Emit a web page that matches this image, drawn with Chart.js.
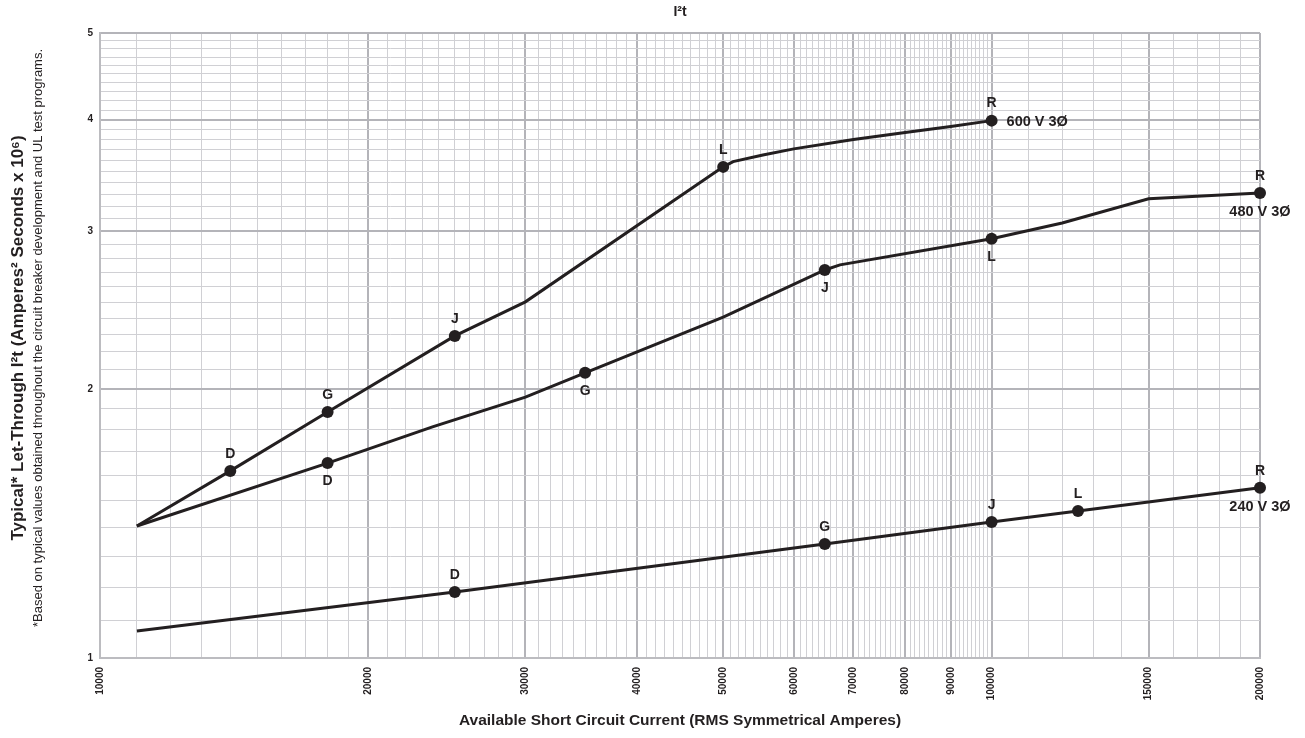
<!DOCTYPE html>
<html>
<head>
<meta charset="utf-8">
<title>I²t</title>
<script src="https://cdn.jsdelivr.net/npm/chart.js@4.4.1/dist/chart.umd.min.js"></script>
<style>
  html, body { margin: 0; padding: 0; background: #fff; }
  #wrap { width: 1305px; height: 738px; position: relative; }
</style>
</head>
<body>
<div id="wrap"><canvas id="myChart"></canvas></div>
<script>
// tick labels
const xTickLabels = [10000, 20000, 30000, 40000, 50000, 60000, 70000, 80000, 90000, 100000, 150000, 200000];
const yTickLabels = [1, 2, 3, 4, 5];

// 600 V 3Ø
const x600 = [11000, 14000, 18000, 25000, 30000, 50000, 51300, 55400, 60000, 70000, 80000, 90000, 100000];
const y600 = [1.405, 1.619, 1.884, 2.292, 2.502, 3.542, 3.59, 3.652, 3.71, 3.80, 3.87, 3.93, 3.99];
const tag600 = ['', 'D', 'G', 'J', '', 'L', '', '', '', '', '', '', 'R'];

// 480 V 3Ø
const x480 = [11000, 18000, 23600, 30000, 35000, 50000, 65000, 67600, 100000, 120000, 150000, 200000];
const y480 = [1.405, 1.652, 1.813, 1.958, 2.084, 2.406, 2.716, 2.752, 2.943, 3.066, 3.262, 3.312];
const tag480 = ['', 'D', '', '', 'G', '', 'J', '', 'L', '', '', 'R'];

// 240 V 3Ø
const x240 = [11000, 25000, 65000, 100000, 125000, 200000];
const y240 = [1.072, 1.185, 1.341, 1.419, 1.46, 1.55];
const tag240 = ['', 'D', 'G', 'J', 'L', 'R'];

const seriesNames = ['600 V 3Ø', '480 V 3Ø', '240 V 3Ø'];

const ink = '#231f20';
const FONT = '"Liberation Sans", Arial, Helvetica, sans-serif';

// grid positions (minor lines of the printed log paper)
const xGrid = [];
for (let v = 10000; v < 100000; v += 1000) xGrid.push(v);
for (let v = 100000; v <= 200000; v += 10000) xGrid.push(v);
const yGrid = [];
for (let i = 10; i <= 50; i++) yGrid.push(i / 10);

const isMajor = (list, v) => list.some(t => Math.abs(t - v) < 1e-6);

function toPoints(xs, ys) {
    return xs.map((x, i) => ({ x: x, y: ys[i] }));
}

function makeSet(name, xs, ys, tags) {
    return {
        label: name,
        data: toPoints(xs, ys),
        tags: tags,
        borderColor: ink,
        backgroundColor: ink,
        borderWidth: 3,
        tension: 0,
        clip: false,
        pointRadius: ctx => (tags[ctx.dataIndex] ? 6 : 0),
        pointHoverRadius: 0,
        pointBorderWidth: 0
    };
}

// letters beside the points and the series names
const pointLabels = {
    id: 'pointLabels',
    afterDatasetsDraw(chart) {
        const c = chart.ctx;
        c.save();
        c.fillStyle = ink;
        c.textAlign = 'center';
        c.textBaseline = 'middle';
        chart.data.datasets.forEach((ds, di) => {
            const meta = chart.getDatasetMeta(di);
            ds.tags.forEach((t, i) => {
                if (!t) return;
                const p = meta.data[i];
                let below = di === 1 && t !== 'R';
                c.font = 'bold 14px ' + FONT;
                c.fillText(t, p.x, below ? p.y + 18 : p.y - 17);
                if (t === 'R') {
                    c.font = 'bold 14.5px ' + FONT;
                    if (di === 0) {
                        c.textAlign = 'left';
                        c.fillText(seriesNames[di], p.x + 15, p.y + 1);
                        c.textAlign = 'center';
                    } else {
                        c.fillText(seriesNames[di], p.x, p.y + 19);
                    }
                }
            });
        });
        c.restore();
    },
    afterDraw(chart) {
        const c = chart.ctx;
        const a = chart.chartArea;
        c.save();
        c.fillStyle = ink;
        c.textAlign = 'center';
        c.textBaseline = 'middle';
        c.font = 'bold 14px ' + FONT;
        c.fillText('I²t', (a.left + a.right) / 2, 12);
        c.font = 'bold 15.5px ' + FONT;
        c.fillText('Available Short Circuit Current (RMS Symmetrical Amperes)', (a.left + a.right) / 2, 721);
        c.save();
        c.translate(18, 338);
        c.rotate(-Math.PI / 2);
        c.font = 'bold 17px ' + FONT;
        c.fillText('Typical* Let-Through I²t (Amperes² Seconds x 10⁶)', 0, 0);
        c.restore();
        c.save();
        c.translate(38, 338);
        c.rotate(-Math.PI / 2);
        c.font = '13px ' + FONT;
        c.fillText('*Based on typical values obtained throughout the circuit breaker development and UL test programs.', 0, 0);
        c.restore();
        c.restore();
    }
};

var ctx = document.getElementById('myChart').getContext('2d');
new Chart(ctx, {
    type: 'line',
    data: {
        datasets: [
            makeSet(seriesNames[0], x600, y600, tag600),
            makeSet(seriesNames[1], x480, y480, tag480),
            makeSet(seriesNames[2], x240, y240, tag240)
        ]
    },
    options: {
        responsive: true,
        maintainAspectRatio: false,
        animation: false,
        layout: { padding: { top: 33, right: 45, left: 0, bottom: 0 } },
        plugins: {
            legend: { display: false },
            tooltip: { enabled: false },
            title: { display: false }
        },
        scales: {
            x: {
                type: 'logarithmic',
                min: 10000,
                max: 200000,
                afterBuildTicks: s => { s.ticks = xGrid.map(v => ({ value: v })); },
                afterFit: s => { s.height = 80; },
                ticks: {
                    autoSkip: false,
                    minRotation: 90,
                    maxRotation: 90,
                    padding: 9,
                    color: ink,
                    font: { family: FONT, size: 10, weight: 'bold' },
                    callback: v => (isMajor(xTickLabels, v) ? String(v) : '')
                },
                grid: {
                    drawTicks: false,
                    color: c => (c.tick && isMajor(xTickLabels, c.tick.value) ? '#b4b4b9' : '#d0d0d4'),
                    lineWidth: c => (c.tick && isMajor(xTickLabels, c.tick.value) ? 2 : 1)
                },
                border: { color: '#bcbcc0', width: 2 }
            },
            y: {
                type: 'logarithmic',
                min: 1,
                max: 5,
                afterBuildTicks: s => { s.ticks = yGrid.map(v => ({ value: v })); },
                afterFit: s => { s.width = 100; },
                ticks: {
                    autoSkip: false,
                    padding: 7,
                    color: ink,
                    font: { family: FONT, size: 10, weight: 'bold' },
                    callback: v => (isMajor(yTickLabels, v) ? String(Math.round(v)) : '')
                },
                grid: {
                    drawTicks: false,
                    color: c => (c.tick && isMajor(yTickLabels, c.tick.value) ? '#b4b4b9' : '#d0d0d4'),
                    lineWidth: c => (c.tick && isMajor(yTickLabels, c.tick.value) ? 2 : 1)
                },
                border: { color: '#bcbcc0', width: 2 }
            }
        }
    },
    plugins: [pointLabels]
});
</script>
</body>
</html>
